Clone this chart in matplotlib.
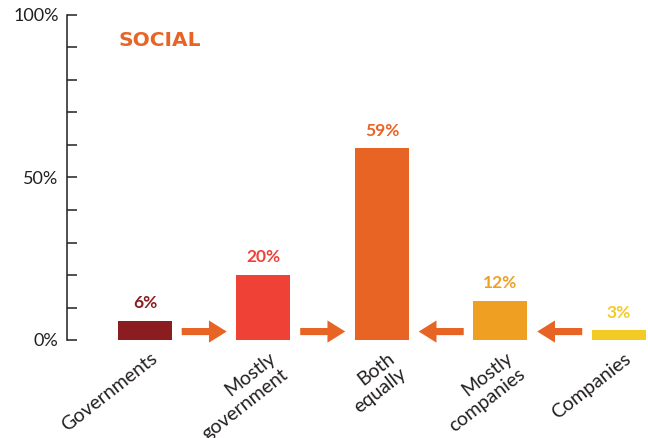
import matplotlib
matplotlib.use("Agg")
import matplotlib.pyplot as plt
import matplotlib.transforms as mtransforms
import numpy as np

plt.rcParams['font.family'] = ['Lato', 'DejaVu Sans']

categories = ['Governments', 'Mostly\ngovernment', 'Both\nequally', 'Mostly\ncompanies', 'Companies']
values = [6, 20, 59, 12, 3]
colors = ['#8B1C1F', '#EF4136', '#E86425', '#EFA023', '#F4CA26']
value_labels = ['6%', '20%', '59%', '12%', '3%']
arrow_color = '#E86425'
text_color = '#231F20'

fig = plt.figure(figsize=(6.48, 4.38), dpi=100)
ax = fig.add_axes([67 / 648, 98 / 438, 581 / 648, 325 / 438])

x = np.arange(len(categories))
ax.bar(x, values, width=0.456, color=colors, zorder=2)

for xi, v, lab, c in zip(x, values, value_labels, colors):
    ax.annotate(lab, (xi, v), xytext=(0, 7), textcoords='offset points',
                ha='center', va='bottom', color=c, fontsize=12.5, fontweight='bold')

# arrows pointing toward the middle bar
for i in range(len(categories) - 1):
    a, b = i + 0.31, i + 0.69
    if i >= 2:
        a, b = b, a
    ax.annotate('', xy=(b, 2.6), xytext=(a, 2.6),
                arrowprops=dict(arrowstyle='simple,head_length=0.8,head_width=1.0,tail_width=0.32',
                                mutation_scale=16, color=arrow_color, lw=0,
                                shrinkA=0, shrinkB=0))

ax.set_xlim(-0.658, 4.245)
ax.set_ylim(0, 100)

ax.set_yticks([0, 50, 100], ['0%', '50%', '100%'])
ax.set_yticks(np.arange(0, 101, 10), minor=True)
ax.tick_params(axis='y', which='both', direction='in', length=7.5, width=1.1,
               colors=text_color, labelsize=13, pad=5)
ax.tick_params(axis='y', which='major', pad=6)

ax.set_xticks(x)
ax.set_xticklabels(categories, rotation=38, ha='right', va='top',
                   rotation_mode='anchor', multialignment='right',
                   fontsize=14, color=text_color)
ax.tick_params(axis='x', length=0, pad=7)
shift = mtransforms.ScaledTranslation(5 / 100, 0, fig.dpi_scale_trans)
for lbl in ax.get_xticklabels():
    lbl.set_transform(lbl.get_transform() + shift)

for side in ['top', 'right', 'bottom']:
    ax.spines[side].set_visible(False)
ax.spines['left'].set_linewidth(1.1)
ax.spines['left'].set_color(text_color)

fig.text(118 / 648, 1 - 41 / 438, 'SOCIAL', color=arrow_color, fontsize=14.5,
         fontweight='bold', ha='left', va='center', family=['DejaVu Sans'])

fig.savefig('out.png', dpi=100)
